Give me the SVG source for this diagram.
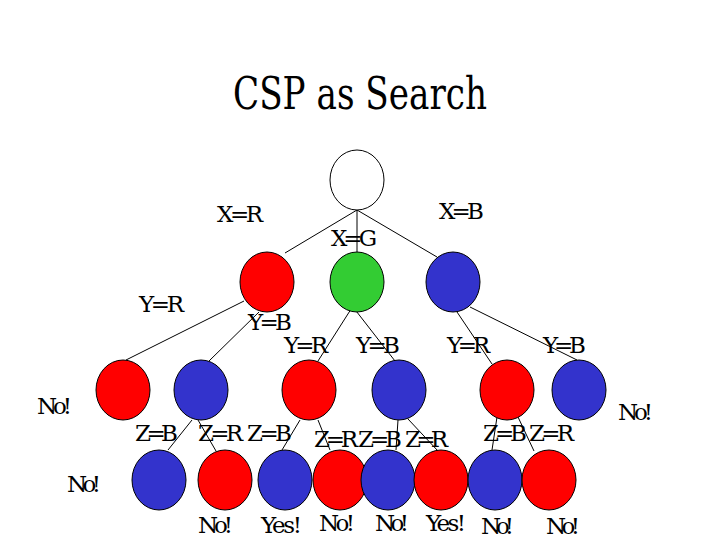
<svg xmlns="http://www.w3.org/2000/svg" width="720" height="540" viewBox="0 0 720 540">
<style>
.n{stroke:#000;stroke-width:1}
.w{fill:#fff}
.r{fill:#ff0000}
.g{fill:#33cc33}
.b{fill:#3333cc}
.e line{stroke:#000;stroke-width:1}
.tx{font-family:'DejaVu Serif','Liberation Serif',serif;font-size:23px;fill:#000}
.t{font-size:44px}
</style>
<rect width="720" height="540" fill="#fff"/>
<g class="tx">
<text class="t" x="233" y="109" textLength="254" lengthAdjust="spacingAndGlyphs">CSP as Search</text>
</g>
<g id="edges" class="e">
<line x1="357" y1="210" x2="285" y2="253"/>
<line x1="357" y1="210" x2="357" y2="252"/>
<line x1="357" y1="210" x2="437" y2="257"/>
<line x1="244" y1="301" x2="126" y2="360"/>
<line x1="259" y1="312" x2="209" y2="361"/>
<line x1="353" y1="306" x2="318" y2="361"/>
<line x1="353" y1="307" x2="395" y2="361"/>
<line x1="457" y1="312" x2="492" y2="364"/>
<line x1="470" y1="307" x2="577" y2="360"/>
<line x1="192" y1="420" x2="168" y2="450"/>
<line x1="198" y1="420" x2="216" y2="451"/>
<line x1="300" y1="420" x2="282" y2="450"/>
<line x1="318" y1="420" x2="330" y2="450"/>
<line x1="398" y1="420" x2="396" y2="450"/>
<line x1="408" y1="419" x2="438" y2="451"/>
<line x1="497" y1="417" x2="492" y2="450"/>
<line x1="518" y1="417" x2="534" y2="451"/>
</g>
<g id="root"><ellipse class="n w" cx="357" cy="180" rx="27" ry="30"/></g>
<g id="x-r"><ellipse class="n r" cx="267" cy="282" rx="27" ry="30"/></g>
<g id="x-g"><ellipse class="n g" cx="357" cy="282" rx="27" ry="30"/></g>
<g id="x-b"><ellipse class="n b" cx="453" cy="282" rx="27" ry="30"/></g>
<g id="rr"><ellipse class="n r" cx="123" cy="390" rx="27" ry="30"/></g>
<g id="rb"><ellipse class="n b" cx="201" cy="390" rx="27" ry="30"/></g>
<g id="gr"><ellipse class="n r" cx="309" cy="390" rx="27" ry="30"/></g>
<g id="gb"><ellipse class="n b" cx="399" cy="390" rx="27" ry="30"/></g>
<g id="br"><ellipse class="n r" cx="507" cy="390" rx="27" ry="30"/></g>
<g id="bb"><ellipse class="n b" cx="579" cy="390" rx="27" ry="30"/></g>
<g id="rbb"><ellipse class="n b" cx="159" cy="480" rx="27" ry="30"/></g>
<g id="rbr"><ellipse class="n r" cx="225" cy="480" rx="27" ry="30"/></g>
<g id="grb"><ellipse class="n b" cx="285" cy="480" rx="27" ry="30"/></g>
<g id="grr"><ellipse class="n r" cx="340" cy="480" rx="27" ry="30"/></g>
<g id="gbb"><ellipse class="n b" cx="388" cy="480" rx="27" ry="30"/></g>
<g id="gbr"><ellipse class="n r" cx="441" cy="480" rx="27" ry="30"/></g>
<g id="brb"><ellipse class="n b" cx="495" cy="480" rx="27" ry="30"/></g>
<g id="brr"><ellipse class="n r" cx="549" cy="480" rx="27" ry="30"/></g>
<g id="labels" class="tx">
<text x="217" y="222" textLength="46">X=R</text>
<text x="439" y="219" textLength="45">X=B</text>
<text x="331" y="246" textLength="46">X=G</text>
<text x="139" y="312" textLength="45">Y=R</text>
<text x="248" y="330" textLength="44">Y=B</text>
<text x="284" y="353" textLength="44">Y=R</text>
<text x="356" y="353" textLength="44">Y=B</text>
<text x="447" y="353" textLength="43">Y=R</text>
<text x="543" y="353" textLength="43">Y=B</text>
<text x="37" y="414" textLength="35">No!</text>
<text x="618" y="420" textLength="35">No!</text>
<text x="135" y="441" textLength="43">Z=B</text>
<text x="198" y="441" textLength="45">Z=R</text>
<text x="247" y="441" textLength="45">Z=B</text>
<text x="314" y="447" textLength="44">Z=R</text>
<text x="358" y="447" textLength="44">Z=B</text>
<text x="405" y="447" textLength="43">Z=R</text>
<text x="483" y="441" textLength="44">Z=B</text>
<text x="529" y="441" textLength="45">Z=R</text>
<text x="67" y="492" textLength="34">No!</text>
<text x="198" y="533" textLength="35">No!</text>
<text x="261" y="533" textLength="41">Yes!</text>
<text x="319" y="531" textLength="36">No!</text>
<text x="375" y="531" textLength="34">No!</text>
<text x="426" y="531" textLength="40">Yes!</text>
<text x="481" y="534" textLength="33">No!</text>
<text x="546" y="534" textLength="34">No!</text>
</g>
</svg>
